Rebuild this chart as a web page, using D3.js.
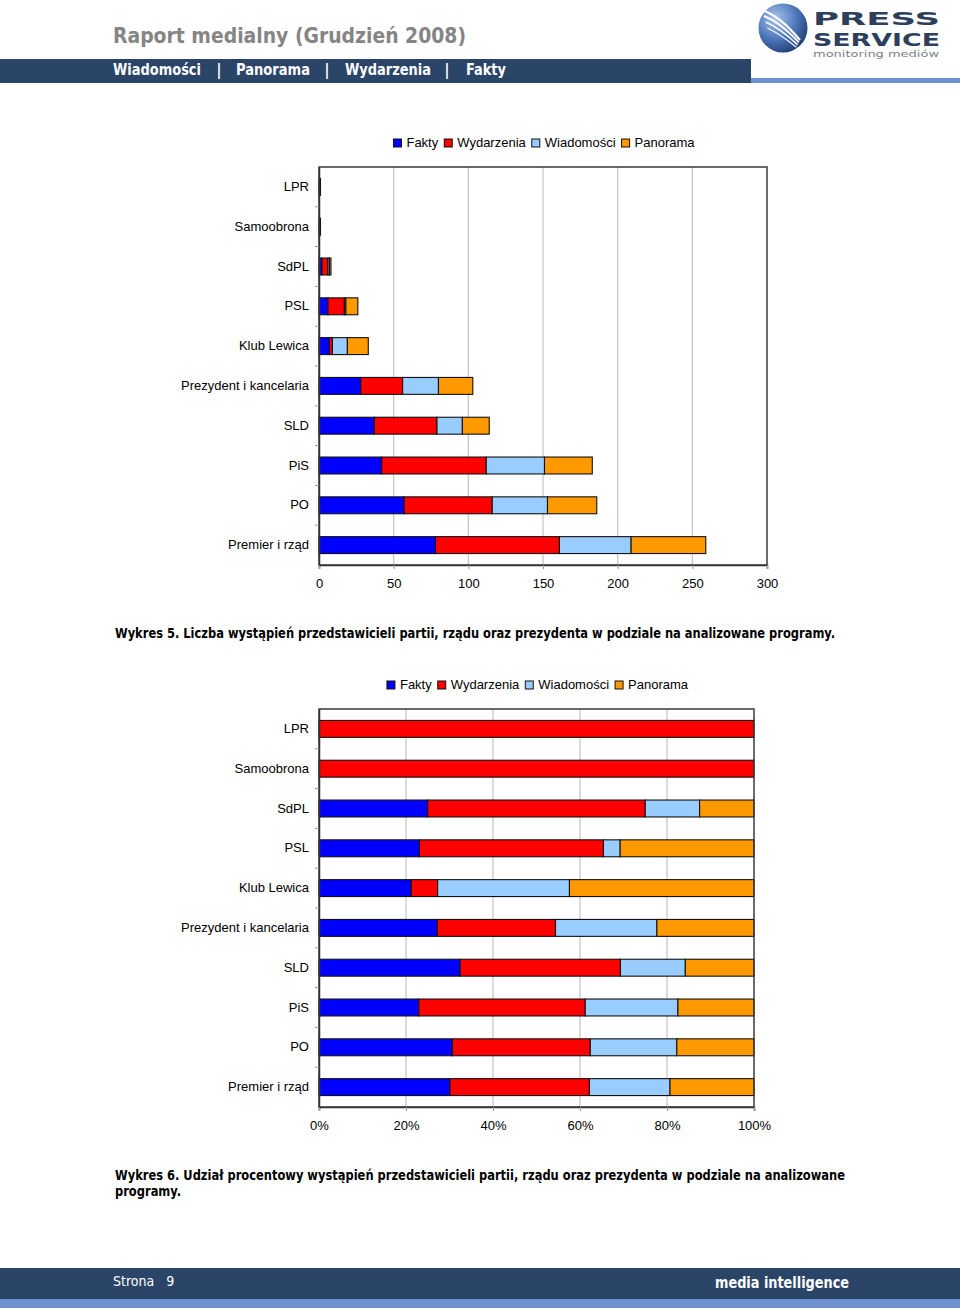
<!DOCTYPE html>
<html><head><meta charset="utf-8">
<script src="https://cdn.jsdelivr.net/npm/d3@7"></script>
<style>
html,body{margin:0;padding:0;background:#fff;}
svg{display:block;}
</style></head>
<body>
<svg id="page" width="960" height="1314"></svg>
<script>
// ---- data ----
const categories = ["LPR","Samoobrona","SdPL","PSL","Klub Lewica","Prezydent i kancelaria","SLD","PiS","PO","Premier i rząd"];
const seriesNames = ["Fakty","Wydarzenia","Wiadomości","Panorama"];
const fakty      = [0, 0, 2, 6, 7, 28, 37, 42, 57, 78];
const wydarzenia = [1, 1, 4, 11, 2, 28, 42, 70, 59, 83];
const wiadomosci = [0, 0, 1, 1, 10, 24, 17, 39, 37, 48];
const panorama   = [0, 0, 1, 8, 14, 23, 18, 32, 33, 50];
const countTicks = [0, 50, 100, 150, 200, 250, 300];
const pctTicks = [0, 0.2, 0.4, 0.6, 0.8, 1];
const navItems = ["Wiadomości","Panorama","Wydarzenia","Fakty"];
const colors = ["#0000FF","#FF0000","#99CCFF","#FF9900"];

const svg = d3.select("#page");
const FONT = "Liberation Sans, Arial, sans-serif";
const HFONT = "DejaVu Sans Condensed, DejaVu Sans, sans-serif";

// ---- header ----
svg.append("text").attr("x",113).attr("y",43).attr("font-family",HFONT).attr("font-weight","bold")
  .attr("font-size",22).attr("fill","#858585").attr("textLength",353).attr("lengthAdjust","spacingAndGlyphs")
  .text("Raport medialny (Grudzień 2008)");
svg.append("rect").attr("x",0).attr("y",59).attr("width",751).attr("height",24).attr("fill","#2b4568");
svg.append("rect").attr("x",751).attr("y",78).attr("width",209).attr("height",5).attr("fill","#6d92cf");
const navX = [113,236,345,466], navW = [88,74,86,40], pipeX = [219,327,447];
navItems.forEach((n,i)=>{
  svg.append("text").attr("x",navX[i]).attr("y",75).attr("font-family",HFONT).attr("font-weight","bold")
    .attr("font-size",15).attr("fill","#fff").attr("textLength",navW[i]).attr("lengthAdjust","spacingAndGlyphs").text(n);
});
pipeX.forEach(px=>{
  svg.append("text").attr("x",px).attr("y",75).attr("text-anchor","middle").attr("font-family",HFONT).attr("font-weight","bold")
    .attr("font-size",15).attr("fill","#fff").text("|");
});

// logo
const defs = svg.append("defs");
const rg = defs.append("radialGradient").attr("id","lg").attr("cx","35%").attr("cy","30%").attr("r","75%");
rg.append("stop").attr("offset","0%").attr("stop-color","#a9c3ea");
rg.append("stop").attr("offset","55%").attr("stop-color","#4f79bd");
rg.append("stop").attr("offset","100%").attr("stop-color","#213f75");
defs.append("clipPath").attr("id","lc").append("circle").attr("cx",783).attr("cy",28).attr("r",24.5);
svg.append("circle").attr("cx",783).attr("cy",28).attr("r",24.5).attr("fill","url(#lg)");
const lgG = svg.append("g").attr("clip-path","url(#lc)");
[0,6,12,18].forEach((o,i)=>{
  lgG.append("path").attr("d",`M${762+o*0.3},${10+o} Q${780},${16+o} ${800-o*0.2},${40+o*0.4}`)
    .attr("fill","none").attr("stroke","#fff").attr("stroke-width",2.2-i*0.3).attr("opacity",0.95);
});
svg.append("text").attr("x",813).attr("y",25).attr("font-family","DejaVu Sans, sans-serif").attr("font-weight","bold")
  .attr("font-size",18).attr("fill","#2e3f5e").attr("textLength",127).attr("lengthAdjust","spacingAndGlyphs").text("PRESS");
svg.append("text").attr("x",813).attr("y",45.5).attr("font-family","DejaVu Sans, sans-serif").attr("font-weight","bold")
  .attr("font-size",18).attr("fill","#2e3f5e").attr("textLength",127).attr("lengthAdjust","spacingAndGlyphs").text("SERVICE");
svg.append("text").attr("x",813).attr("y",56.5).attr("font-family","DejaVu Sans, sans-serif")
  .attr("font-size",8).attr("fill","#7a7f88").attr("textLength",126).attr("lengthAdjust","spacingAndGlyphs").text("monitoring mediów");

// ---- chart builder ----
function drawChart(cfg){
  const {x0,x1,y0,y1,data,domainMax,ticks,fmt,legendY} = cfg;
  const g = svg.append("g");
  const x = d3.scaleLinear().domain([0,domainMax]).range([x0,x1]);
  const y = d3.scaleBand().domain(categories).range([y0,y1]).paddingInner(0.575).paddingOuter(0.2875);
  // grid
  g.append("g").selectAll("line").data(ticks.slice(1,-1)).join("line")
    .attr("x1",d=>x(d)).attr("x2",d=>x(d)).attr("y1",y0).attr("y2",y1)
    .attr("stroke","#c8c8c8").attr("stroke-width",1.3);
  // bars
  const stack = d3.stack().keys([0,1,2,3]).value((d,k)=>d[k]);
  const stacked = stack(data);
  stacked.forEach((layer,i)=>{
    g.append("g").selectAll("rect").data(layer).join("rect")
      .attr("x",d=>x(d[0])).attr("width",d=>Math.max(0,x(d[1])-x(d[0])))
      .attr("y",(d,j)=>y(categories[j])).attr("height",y.bandwidth())
      .attr("fill",colors[i]).attr("stroke","#111").attr("stroke-width",1.1)
      .attr("display",d=>(d[1]-d[0])>0?null:"none");
  });
  // frame
  g.append("rect").attr("x",x0).attr("y",y0).attr("width",x1-x0).attr("height",y1-y0)
    .attr("fill","none").attr("stroke","#3a3a3a").attr("stroke-width",1.5);
  // x axis
  const xa = g.append("g").attr("transform",`translate(0,${y1})`)
    .call(d3.axisBottom(x).tickValues(ticks).tickFormat(fmt).tickSize(4).tickPadding(10));
  xa.select(".domain").attr("stroke","#333").attr("stroke-width",1.5);
  xa.selectAll(".tick line").attr("stroke","#999");
  xa.selectAll("text").attr("font-family",FONT).attr("font-size",13).attr("fill","#000");
  // y axis
  const ya = g.append("g").attr("transform",`translate(${x0},0)`)
    .call(d3.axisLeft(y).tickSize(0).tickPadding(10));
  ya.select(".domain").attr("stroke","#333").attr("stroke-width",1.5);
  ya.selectAll("text").attr("font-family",FONT).attr("font-size",13).attr("fill","#000");
  // y tick marks between bands
  const step = y.step();
  g.append("g").selectAll("line").data(d3.range(1,categories.length)).join("line")
    .attr("x1",x0-4).attr("x2",x0).attr("y1",i=>y0+i*step).attr("y2",i=>y0+i*step)
    .attr("stroke","#999");
  // legend
  const lg = g.append("g");
  let cx = 0;
  seriesNames.forEach((n,i)=>{
    const it = lg.append("g").attr("transform",`translate(${cx},0)`);
    it.append("rect").attr("x",0).attr("y",-8).attr("width",8).attr("height",8)
      .attr("fill",colors[i]).attr("stroke","#111").attr("stroke-width",1);
    const t = it.append("text").attr("x",13).attr("y",0).attr("font-family",FONT).attr("font-size",13).text(n);
    cx += 13 + t.node().getComputedTextLength() + 6;
  });
  const lw = cx - 6;
  lg.attr("transform",`translate(${(x0+x1)/2 - lw/2 + 1},${legendY})`);
}

drawChart({x0:319,x1:767,y0:167,y1:565,domainMax:300,ticks:countTicks,fmt:d3.format("d"),legendY:147,
  data: categories.map((c,i)=>[fakty[i],wydarzenia[i],wiadomosci[i],panorama[i]])});

const pctData = categories.map((c,i)=>{
  const t = fakty[i]+wydarzenia[i]+wiadomosci[i]+panorama[i];
  return [fakty[i]/t,wydarzenia[i]/t,wiadomosci[i]/t,panorama[i]/t];
});
drawChart({x0:319,x1:754,y0:709,y1:1107,domainMax:1,ticks:pctTicks,fmt:d3.format(".0%"),legendY:689,data:pctData});

// captions
const CFONT = "DejaVu Sans Condensed, DejaVu Sans, sans-serif";
svg.append("text").attr("x",115).attr("y",638).attr("font-family",CFONT).attr("font-weight","bold").attr("font-size",14)
  .attr("textLength",720).attr("lengthAdjust","spacingAndGlyphs")
  .text("Wykres 5. Liczba wystąpień przedstawicieli partii, rządu oraz prezydenta w podziale na analizowane programy.");
svg.append("text").attr("x",115).attr("y",1180).attr("font-family",CFONT).attr("font-weight","bold").attr("font-size",14)
  .attr("textLength",730).attr("lengthAdjust","spacingAndGlyphs")
  .text("Wykres 6. Udział procentowy wystąpień przedstawicieli partii, rządu oraz prezydenta w podziale na analizowane");
svg.append("text").attr("x",115).attr("y",1196).attr("font-family",CFONT).attr("font-weight","bold").attr("font-size",14)
  .attr("textLength",66).attr("lengthAdjust","spacingAndGlyphs")
  .text("programy.");

// footer
svg.append("rect").attr("x",0).attr("y",1268).attr("width",960).attr("height",31).attr("fill","#2b4568");
svg.append("rect").attr("x",0).attr("y",1299).attr("width",960).attr("height",9).attr("fill","#6d92cf");
svg.append("text").attr("x",113).attr("y",1286).attr("font-family",HFONT).attr("font-size",14).attr("fill","#fff")
  .attr("xml:space","preserve").text("Strona   9");
svg.append("text").attr("x",715).attr("y",1288).attr("font-family",HFONT).attr("font-weight","bold").attr("font-size",16).attr("fill","#fff")
  .attr("textLength",134).attr("lengthAdjust","spacingAndGlyphs").text("media intelligence");
</script>
</body></html>
